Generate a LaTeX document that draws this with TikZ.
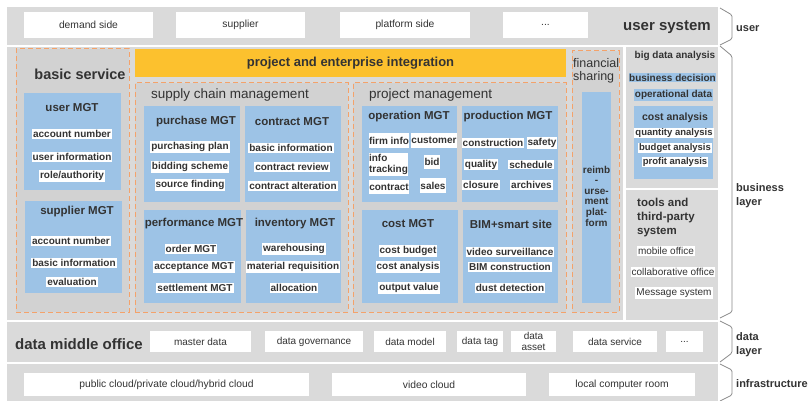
\documentclass[tikz,border=0pt]{standalone}
\usepackage{fontspec}
\setmainfont{Liberation Sans}
\definecolor{band}{HTML}{DADADA}
\definecolor{innerg}{HTML}{D2D2D2}
\definecolor{bluebox}{HTML}{9DC3E6}
\definecolor{yel}{HTML}{FCC12E}
\definecolor{orng}{HTML}{F4A26A}
\definecolor{txt}{HTML}{333333}
\definecolor{brc}{HTML}{8A8A8A}
\newcommand{\mkbox}[7]{\node[#6, anchor=north west, minimum width={#4pt-#2pt}, minimum height={#5pt-#3pt}, inner sep=0pt, outer sep=0pt] (#1) at (#2,#3) {#7};}
\tikzset{
  bandbox/.style={fill=band, draw=none},
  dashbox/.style={fill=innerg, draw=orng, dash pattern=on 5pt off 3pt, line width=1pt},
  bluebx/.style={fill=bluebox},
  whitebx/.style={fill=white},
  yelbx/.style={fill=yel},
  lbl/.style={text=txt, font=\fontsize{10.3}{12}\selectfont},
  itf/.style={text=txt, font=\bfseries\fontsize{10}{12}\selectfont},
  item/.style={fill=white, text=txt, font=\bfseries\fontsize{10}{12}\selectfont, inner xsep=1pt, inner ysep=1pt},
  itemsm/.style={fill=white, text=txt, font=\bfseries\fontsize{9.5}{11}\selectfont, inner xsep=1pt, inner ysep=1pt},
  reg/.style={fill=white, text=txt, font=\fontsize{10}{12}\selectfont, inner xsep=1pt, inner ysep=1.5pt},
  ttl/.style={text=txt, font=\bfseries\fontsize{11.5}{13}\selectfont, inner sep=0pt},
  ttlsm/.style={text=txt, font=\bfseries\fontsize{10}{12}\selectfont, inner sep=0pt},
  bigttl/.style={text=txt, font=\bfseries\fontsize{15}{17}\selectfont, inner sep=0pt},
  hdr/.style={text=txt, font=\fontsize{13.5}{15}\selectfont, inner sep=0pt},
  sidelbl/.style={text=txt, font=\bfseries\fontsize{11}{14}\selectfont, inner sep=0pt, anchor=west, align=left},
  bracestyle/.style={draw=brc, line width=0.8pt, rounded corners=1.5pt}
}
\begin{document}
\begin{tikzpicture}[x=1pt,y=-1pt]
\useasboundingbox[fill=white] (0,0) rectangle (811,401);
% bands
\mkbox{userband}{7}{7}{718}{45}{bandbox}{}
\mkbox{busband}{7}{47}{623}{320}{bandbox}{}
\mkbox{bigdata}{626}{47}{718}{188}{bandbox}{}
\mkbox{tools}{626}{190}{718}{320}{bandbox}{}
\mkbox{databand}{7}{322}{718}{362}{bandbox}{}
\mkbox{infraband}{7}{364}{718}{401}{bandbox}{}
% user system
\mkbox{demand}{24}{12}{153}{38}{whitebx,lbl}{demand side}
\mkbox{supplier}{176}{12}{305}{38}{whitebx,lbl}{supplier}
\mkbox{platform}{340}{12}{470}{38}{whitebx,lbl}{platform side}
\mkbox{udots}{503}{12}{588}{38}{whitebx,lbl}{...}
\node[bigttl] (usersys) at (667,27) {user system};
% basic service
\mkbox{basic}{16}{49}{129}{312}{dashbox}{}
\node[bigttl,font=\bfseries\fontsize{14.5}{17}\selectfont] (basicT) at (80,74) {basic service};
\mkbox{userMGT}{24}{93}{121}{190}{bluebx}{}
\node[ttl] (userMGTt) at (72,108) {user MGT};
\node[item] (u1) at (72,134) {account number};
\node[item] (u2) at (72,157) {user information};
\node[item] (u3) at (72,176) {role/authority};
\mkbox{supMGT}{25}{201}{122}{293}{bluebx}{}
\node[ttl] (supMGTt) at (77,212) {supplier MGT};
\node[item] (s1) at (71,241) {account number};
\node[item] (s2) at (74,263) {basic information};
\node[item] (s3) at (72,282) {evaluation};
% integration bar
\mkbox{integ}{135}{49}{566}{77}{yelbx,text=txt,font=\bfseries\fontsize{13}{15}\selectfont}{project and enterprise integration}
% supply chain
\mkbox{supply}{135}{83}{348}{312}{dashbox}{}
\node[hdr, anchor=west] (supplyT) at (151,95) {supply chain management};
\mkbox{purMGT}{144}{106}{240}{202}{bluebx}{}
\node[ttl] (purT) at (196,122) {purchase MGT};
\node[item] (p1) at (190,147) {purchasing plan};
\node[item] (p2) at (190,167) {bidding scheme};
\node[item] (p3) at (190,185) {source finding};
\mkbox{conMGT}{245}{106}{341}{202}{bluebx}{}
\node[ttl] (conT) at (292,122) {contract MGT};
\node[item] (c1) at (291,148) {basic information};
\node[item] (c2) at (292,167) {contract review};
\node[item] (c3) at (293,186) {contract alteration};
\mkbox{perMGT}{144}{210}{241}{303}{bluebx}{}
\node[ttl] (perT) at (194,224) {performance MGT};
\node[item] (f1) at (191,249) {order MGT};
\node[item] (f2) at (194,267) {acceptance MGT};
\node[item] (f3) at (195,288) {settlement MGT};
\mkbox{invMGT}{246}{210}{341}{303}{bluebx}{}
\node[ttl] (invT) at (295,224) {inventory MGT};
\node[item] (i1) at (294,249) {warehousing};
\node[item] (i2) at (293,267) {material requisition};
\node[item] (i3) at (294,288) {allocation};
% project management
\mkbox{projm}{353}{83}{566}{312}{dashbox}{}
\node[hdr, anchor=west] (projT) at (369,95) {project management};
\mkbox{opMGT}{362}{106}{457}{202}{bluebx}{}
\node[ttl] (opT) at (409,117) {operation MGT};
\mkbox{firm}{369}{133}{409}{148}{whitebx,itf}{firm info}
\mkbox{cust}{411}{133}{457}{148}{whitebx,itf}{customer}
\mkbox{track}{369}{153}{408}{176}{whitebx,itf,align=left,font=\bfseries\fontsize{10}{11}\selectfont}{info\\tracking}
\mkbox{bid}{424}{155}{440}{169}{whitebx,itf}{bid}
\mkbox{contr}{369}{180}{409}{194}{whitebx,itf}{contract}
\mkbox{sales}{420}{178}{446}{193}{whitebx,itf}{sales}
\mkbox{prodMGT}{462}{106}{558}{202}{bluebx}{}
\node[ttl] (prodT) at (508,117) {production MGT};
\node[item] (r1) at (493,143) {construction};
\node[item] (r2) at (542,143) {safety};
\node[item] (r3) at (481,164.5) {quality};
\node[item] (r4) at (531,164.5) {schedule};
\node[item] (r5) at (481,185) {closure};
\node[item] (r6) at (531.5,185) {archives};
\mkbox{costMGT}{362}{210}{458}{303}{bluebx}{}
\node[ttl] (costT) at (408,224) {cost MGT};
\node[item] (k1) at (408,251) {cost budget};
\node[item] (k2) at (408,267) {cost analysis};
\node[item] (k3) at (409,288) {output value};
\mkbox{bim}{463}{210}{558}{303}{bluebx}{}
\node[ttl] (bimT) at (511,224) {BIM+smart site};
\node[item] (b1) at (510,252) {video surveillance};
\node[item] (b2) at (510,267) {BIM construction};
\node[item] (b3) at (510,288) {dust detection};
% financial sharing
\mkbox{fin}{572}{51}{619}{312}{dashbox}{}
\node[hdr, anchor=west, align=left, font=\fontsize{12.5}{12.5}\selectfont] (finT) at (573,71) {financial\\sharing};
\mkbox{reimb}{582}{92}{611}{303}{bluebx}{}
\node[text=txt, align=center, inner sep=0pt, font=\bfseries\fontsize{10}{10.6}\selectfont] (reimbT) at (596.5,196) {reimb\\-\\urse-\\ment\\plat-\\form};
% big data analysis
\node[ttlsm] (bdaT) at (675,56) {big data analysis};
\node[item, fill=bluebox, inner xsep=0.5pt] (bdec) at (672.5,77.5) {business decision};
\node[item, fill=bluebox, inner xsep=1pt] (opdata) at (673.5,95) {operational data};
\mkbox{costA}{634}{106}{713}{179}{bluebx}{}
\node[ttlsm, font=\bfseries\fontsize{10.5}{12}\selectfont] (costAT) at (675,118) {cost analysis};
\node[itemsm] (a1) at (674,133) {quantity analysis};
\node[itemsm] (a2) at (675,148) {budget analysis};
\node[itemsm] (a3) at (675,162) {profit analysis};
% tools
\node[ttl, anchor=north west, align=left, font=\bfseries\fontsize{11.5}{14}\selectfont] (toolsT) at (637,197.5) {tools and\\third-party\\system};
\node[reg] (t1) at (666,251) {mobile office};
\node[reg] (t2) at (673,272) {collaborative office};
\node[reg] (t3) at (674,293) {Message system};
% data middle office
\node[bigttl, anchor=west] (dmo) at (15,344) {data middle office};
\mkbox{master}{150}{331}{251}{352}{whitebx,lbl,font=\fontsize{10}{12}\selectfont}{master data}
\mkbox{gov}{265}{331}{363}{352}{whitebx,lbl,font=\fontsize{10}{12}\selectfont}{data governance}
\mkbox{model}{374}{331}{446}{352}{whitebx,lbl,font=\fontsize{10}{12}\selectfont}{data model}
\mkbox{tag}{457}{331}{503}{352}{whitebx,lbl,font=\fontsize{10}{12}\selectfont}{data tag}
\mkbox{asset}{511}{331}{556}{352}{whitebx,lbl,align=center,font=\fontsize{10}{11}\selectfont}{data\\asset}
\mkbox{dserv}{573}{331}{657}{352}{whitebx,lbl,font=\fontsize{10}{12}\selectfont}{data service}
\mkbox{ddots}{666}{331}{703}{352}{whitebx,lbl,font=\fontsize{10}{12}\selectfont}{...}
% infrastructure
\mkbox{cloud}{24}{373}{309}{396}{whitebx,lbl}{public cloud/private cloud/hybrid cloud}
\mkbox{video}{332}{373}{526}{396}{whitebx,lbl}{video cloud}
\mkbox{local}{549}{373}{695}{396}{whitebx,lbl}{local computer room}
% braces and layer labels
\draw[bracestyle] (720,8) -- (732,15) -- (732,39) -- (720,45);
\draw[bracestyle] (720,46) -- (732,56) -- (732,312) -- (720,318);
\draw[bracestyle] (720,321) -- (732,327) -- (732,353) -- (720,362);
\draw[bracestyle] (720,364) -- (732,370) -- (732,395) -- (720,401);
\node[sidelbl] (luser) at (736,29) {user};
\node[sidelbl] (lbus) at (736,195.5) {business\\layer};
\node[sidelbl] (ldata) at (736,344.5) {data\\layer};
\node[sidelbl] (linfra) at (736,384) {infrastructure};
\end{tikzpicture}
\end{document}
